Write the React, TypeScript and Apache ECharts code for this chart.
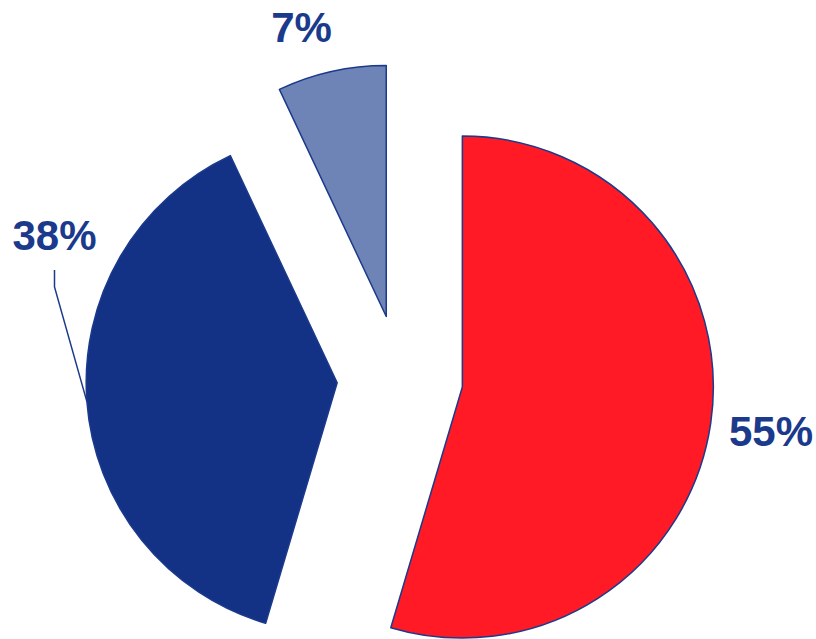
import React, { useEffect, useRef } from "react";
import * as echarts from "echarts";

const categories = ["Segment A", "Segment B", "Segment C"];
const values = [54.6, 38.4, 7.0];
const sliceColors = ["#FF1A26", "#133285", "#6F84B6"];
const labelPositions: number[][] = [
  [771, 431],
  [54.5, 235],
  [301.5, 27],
];

const CX = 400;
const CY = 378;
const R = 251;
const OFFSET = 63;
const NAVY = "#1B3A8C";

export default function App() {
  const ref = useRef<HTMLDivElement>(null);
  useEffect(() => {
    document.body.style.margin = "0";
    const chart = echarts.init(ref.current!, null, { renderer: "svg" });
    const total = values.reduce((a, b) => a + b, 0);
    const shifts: number[][] = [];
    let acc = 0;
    for (const v of values) {
      const a0 = (acc / total) * Math.PI * 2;
      acc += v;
      const a1 = (acc / total) * Math.PI * 2;
      const mid = (a0 + a1) / 2;
      shifts.push([Math.sin(mid) * OFFSET, -Math.cos(mid) * OFFSET]);
    }
    chart.setOption({
      animation: false,
      backgroundColor: "#ffffff",
      series: [
        {
          type: "pie",
          center: [CX, CY],
          radius: R,
          startAngle: 90,
          clockwise: true,
          selectedMode: "multiple",
          selectedOffset: OFFSET,
          avoidLabelOverlap: false,
          emphasis: { disabled: true },
          itemStyle: { borderColor: NAVY, borderWidth: 1.5 },
          label: {
            show: true,
            position: "outside",
            formatter: (p: any) => Math.round(p.value) + "%",
            fontSize: 42,
            fontWeight: "bold",
            fontFamily: "Liberation Sans, Arial, sans-serif",
            color: NAVY,
          },
          labelLine: { show: false },
          labelLayout: (params: any) => {
            const i = params.dataIndex;
            const [lx, ly] = labelPositions[i];
            const [sx, sy] = shifts[i];
            const r = params.labelRect;
            const out: any = {
              dx: lx - sx - (r.x + r.width / 2),
              dy: ly - sy - (r.y + r.height / 2),
            };
            if (i === 1 && params.labelLinePoints) {
              const p0 = params.labelLinePoints[0];
              out.labelLinePoints = [
                [p0[0], p0[1]],
                [lx - sx, ly + 52 - sy],
                [lx - sx, ly + 35 - sy],
              ];
            }
            return out;
          },
          data: values.map((v, i) => ({
            name: categories[i],
            value: v,
            selected: true,
            itemStyle: { color: sliceColors[i] },
            select: { itemStyle: { color: sliceColors[i], borderColor: NAVY, borderWidth: 1.5 } },
            labelLine:
              i === 1
                ? { show: true, length: 20, length2: 10, lineStyle: { color: NAVY, width: 1.5 } }
                : { show: false },
          })),
        },
      ],
    });
    return () => chart.dispose();
  }, []);
  return <div ref={ref} style={{ width: 816, height: 639 }} />;
}
